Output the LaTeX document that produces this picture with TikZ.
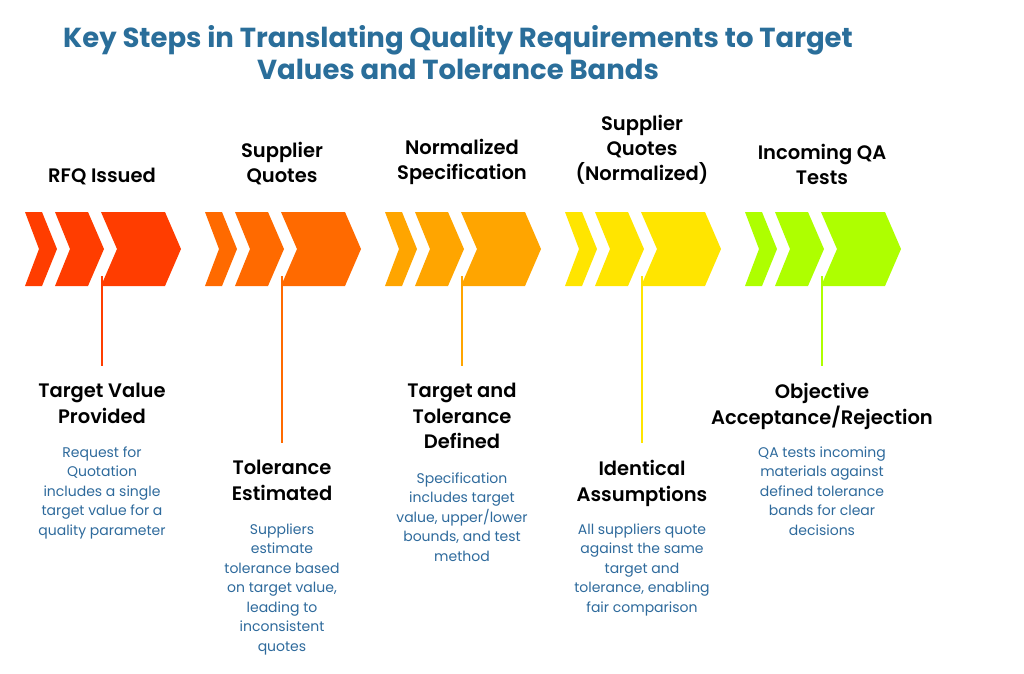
\documentclass[tikz,border=0pt]{standalone}
\usepackage{fontspec}
\setmainfont{Poppins}
\newfontfamily\headf{Poppins}[UprightFont=* Bold]
\newfontfamily\headsf{Poppins}[UprightFont=* SemiBold]
\begin{document}
\begin{tikzpicture}[x=1pt,y=-1pt,
 ttl/.style={font=\headf\fontsize{27.5}{32}\selectfont,text=title,align=center},
 top/.style={font=\headsf\fontsize{19.5}{25}\selectfont,align=center,anchor=south},
 hd/.style={font=\headsf\fontsize{19.5}{25.5}\selectfont,align=center,anchor=north},
 bd/.style={font=\fontsize{14}{19.5}\selectfont,text=body,align=center,anchor=north}]
\definecolor{title}{HTML}{2A6E9A}
\definecolor{body}{HTML}{2E6A9C}
\definecolor{c1}{HTML}{FF3D00}\definecolor{c2}{HTML}{FF6A00}\definecolor{c3}{HTML}{FFA500}
\definecolor{c4}{HTML}{FFE500}\definecolor{c5}{HTML}{AEFF00}
\useasboundingbox (0,0) rectangle (1024,673);
\node[ttl] (t) at (458,53) {Key Steps in Translating Quality Requirements to Target\\Values and Tolerance Bands};
\foreach \i/\c in {0/c1,1/c2,2/c3,3/c4,4/c5}{
 \begin{scope}[xshift=\i*180]
 \fill[\c] (25,212)--(42,212)--(57,249)--(42,286)--(25,286)--(39,249)--cycle;
 \fill[\c] (55,212)--(88,212)--(104,249)--(88,286)--(55,286)--(70,249)--cycle;
 \fill[\c] (101,212)--(165,212)--(181,249)--(165,286)--(101,286)--(117,249)--cycle;
 \end{scope}}
\coordinate (a1) at (102,276);\coordinate (b1) at (102,366);
\coordinate (a2) at (282,276);\coordinate (b2) at (282,443);
\coordinate (a3) at (462,276);\coordinate (b3) at (462,366);
\coordinate (a4) at (642,276);\coordinate (b4) at (642,443);
\coordinate (a5) at (822,276);\coordinate (b5) at (822,366);
\draw[c1,line width=2] (a1)--(b1);\draw[c2,line width=2] (a2)--(b2);
\draw[c3,line width=2] (a3)--(b3);\draw[c4,line width=2] (a4)--(b4);
\draw[c5,line width=2] (a5)--(b5);
\node[top] (u1) at (102,188) {RFQ Issued};
\node[top] (u2) at (282,188) {Supplier\\Quotes};
\node[top] (u3) at (462,188) {Normalized\\Specification};
\node[top] (u4) at (642,188) {Supplier\\Quotes\\(Normalized)};
\node[top] (u5) at (822,188) {Incoming QA\\Tests};
\node[hd] (h1) at (102,380) {Target Value\\Provided};
\node[bd] (d1) at (102,443) {Request for\\Quotation\\includes a single\\target value for a\\quality parameter};
\node[hd] (h2) at (282,457) {Tolerance\\Estimated};
\node[bd] (d2) at (282,520) {Suppliers\\estimate\\tolerance based\\on target value,\\leading to\\inconsistent\\quotes};
\node[hd] (h3) at (462,380) {Target and\\Tolerance\\Defined};
\node[bd] (d3) at (462,469) {Specification\\includes target\\value, upper/lower\\bounds, and test\\method};
\node[hd] (h4) at (642,457) {Identical\\Assumptions};
\node[bd] (d4) at (642,520) {All suppliers quote\\against the same\\target and\\tolerance, enabling\\fair comparison};
\node[hd] (h5) at (822,380) {Objective\\Acceptance/Rejection};
\node[bd] (d5) at (822,443) {QA tests incoming\\materials against\\defined tolerance\\bands for clear\\decisions};
\end{tikzpicture}
\end{document}
